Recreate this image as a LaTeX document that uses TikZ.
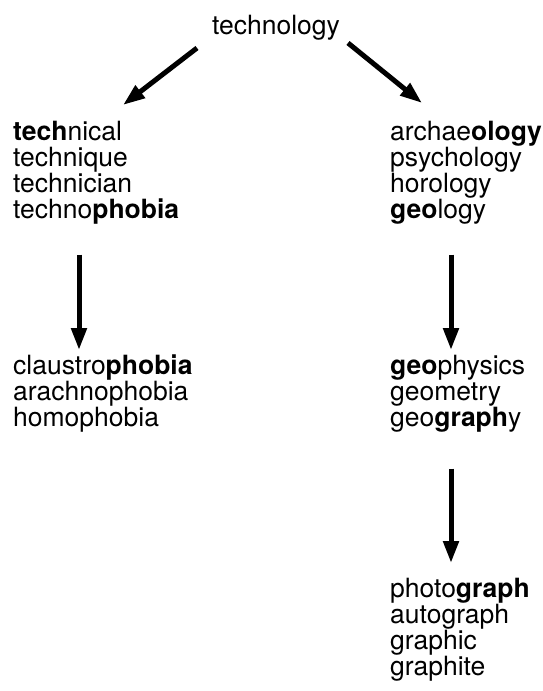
\documentclass[tikz,border=0pt]{standalone}
\usepackage{fontspec}
\setmainfont{TeX Gyre Heros}
\usetikzlibrary{arrows.meta}
\tikzset{
  words/.style={anchor=north west, inner sep=0pt, align=left, font=\fontsize{26.5}{26}\selectfont},
  rootword/.style={anchor=base, inner sep=0pt, font=\fontsize{26.5}{26}\selectfont},
  bigarrow/.style={line width=5pt, -{Triangle[length=22pt,width=15pt]}}
}
\begin{document}
\begin{tikzpicture}[x=1pt,y=-1pt]
\useasboundingbox (0,0) rectangle (543,691);
\node[rootword] (root) at (276,34) {technology};
\node[words] (tech) at (13,121) {\textbf{tech}nical\\technique\\technician\\techno\textbf{phobia}};
\node[words] (olog) at (390,121) {archae\textbf{ology}\\psychology\\horology\\\textbf{geo}logy};
\node[words] (phob) at (13,355) {claustro\textbf{phobia}\\arachnophobia\\homophobia};
\node[words] (geo) at (390,355) {\textbf{geo}physics\\geometry\\geo\textbf{graph}y};
\node[words] (graph) at (390,578) {photo\textbf{graph}\\autograph\\graphic\\graphite};
\draw[bigarrow] ([xshift=-79pt,yshift=-8pt]root.south) -- ([xshift=110pt,yshift=16pt]tech.north west);
\draw[bigarrow] ([xshift=72pt,yshift=-3pt]root.south) -- ([xshift=32pt,yshift=18pt]olog.north west);
\draw[bigarrow] ([xshift=66pt,yshift=-30pt]tech.south west) -- ([xshift=66pt,yshift=5pt]phob.north west);
\draw[bigarrow] ([xshift=61pt,yshift=-30pt]olog.south west) -- ([xshift=61pt,yshift=5pt]geo.north west);
\draw[bigarrow] ([xshift=61pt,yshift=-36pt]geo.south west) -- ([xshift=61pt,yshift=15pt]graph.north west);
\end{tikzpicture}
\end{document}
